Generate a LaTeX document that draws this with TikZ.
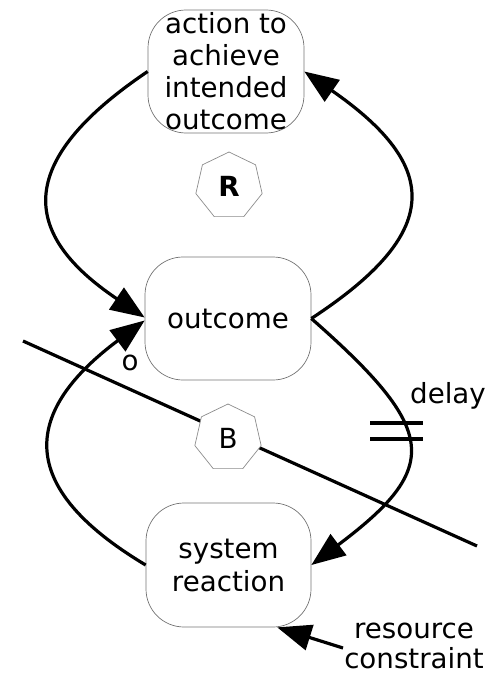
\documentclass[tikz,border=0pt]{standalone}
\usepackage{fontspec}
\setmainfont{DejaVu Sans}
\usetikzlibrary{arrows.meta,shapes.geometric}
\begin{document}
\begin{tikzpicture}[x=1pt,y=-1pt,
  every node/.style={font=\fontsize{27.7}{32}\selectfont},
  box/.style={draw=black!55, line width=0.7pt, rounded corners=38pt,
    align=center, inner sep=0pt},
  loopmark/.style={draw=black!45, line width=0.7pt, fill=white,
    regular polygon, regular polygon sides=7, minimum size=68pt, inner sep=0pt},
  link/.style={line width=3.2pt, -{Triangle[length=34pt,width=26pt]}},
  plain/.style={line width=3.2pt}
]
\useasboundingbox (0,0) rectangle (497,677);

% the three stages
\node[box, minimum width=156pt, minimum height=123pt] (top) at (226,71.5)
  {action to\\achieve\\intended\\outcome};
\node[box, minimum width=166pt, minimum height=123pt] (out) at (228,318.5) {outcome};
\node[box, minimum width=165pt, minimum height=124pt,
  font=\fontsize{27.7}{33}\selectfont] (sys) at (228.5,565) {system\\reaction};

% reinforcing loop
\draw[link] (top.west) .. controls (12,163) and (22,235) .. ([yshift=1pt]out.west);
\draw[link] (out.east) .. controls (442,233) and (442,167) .. (top.east);
\node[loopmark] (R) at (229,186) {\textbf{R}};

% balancing loop
\draw[link] (out.east) .. controls (438,430) and (442,467) .. (sys.east);
\draw[link] (sys.west) .. controls (12,485) and (25,410) .. ([yshift=-2pt]out.west);

% delay marks on the lower right arc
\coordinate (h1a) at (370,423);
\coordinate (h1b) at (423,423);
\coordinate (h2a) at (370,439);
\coordinate (h2b) at (423,439);
\draw[plain] (h1a) -- (h1b);
\draw[plain] (h2a) -- (h2b);

% cut line through the balancing loop
\coordinate (cutA) at (23,341);
\coordinate (cutB) at (477,546);
\draw[plain] (cutA) -- (cutB);
\node[loopmark] (B) at (228,438) {B};

% labels
\node (o) at (130,363) {o};
\node (dl) at (448,396) {delay};
\node[align=center, font=\fontsize{27.7}{30}\selectfont] (rc) at (414,646)
  {resource\\constraint};

% external constraint
\coordinate (rctail) at (343,648);
\draw[link] (rctail) -- (sys.-52);
\end{tikzpicture}
\end{document}
